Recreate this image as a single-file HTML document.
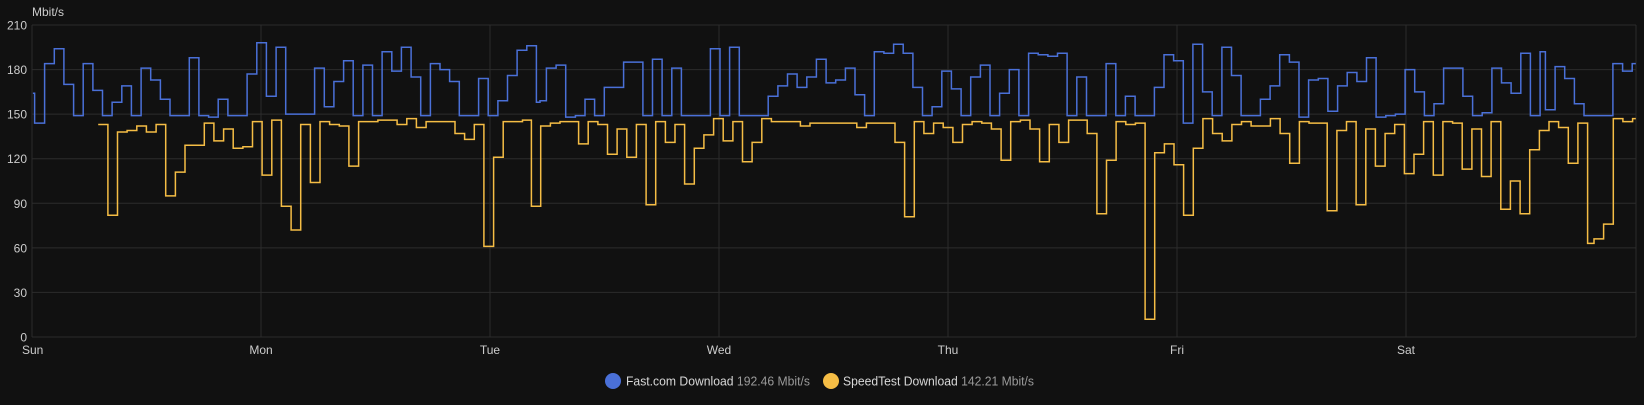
<!DOCTYPE html>
<html><head><meta charset="utf-8"><style>
html,body{margin:0;padding:0;background:#111111;}
svg{display:block;font-family:"Liberation Sans",sans-serif;}
</style></head><body>
<svg id="c" width="1644" height="405" xmlns="http://www.w3.org/2000/svg">
<rect width="1644" height="405" fill="#111111"/>
<g id="grid" stroke="#2c2c2c" stroke-width="1"></g>
<g id="lbl" fill="#cccccc" font-size="12"></g>
<text x="32" y="16" fill="#cccccc" font-size="12">Mbit/s</text>
<g id="series" fill="none" stroke-width="1.5" stroke-linejoin="miter"></g>
<circle cx="613" cy="381" r="8" fill="#4a70d8"/>
<text x="626" y="385.5" font-size="13" fill="#d8d8d8" textLength="184" lengthAdjust="spacingAndGlyphs">Fast.com Download <tspan fill="#9a9a9a">192.46 Mbit/s</tspan></text>
<circle cx="831" cy="381" r="8" fill="#f5bd45"/>
<text x="843" y="385.5" font-size="13" fill="#d8d8d8" textLength="191" lengthAdjust="spacingAndGlyphs">SpeedTest Download <tspan fill="#9a9a9a">142.21 Mbit/s</tspan></text>
</svg>
<script>
var NS="http://www.w3.org/2000/svg";
function el(t,a,p,txt){var e=document.createElementNS(NS,t);for(var k in a)e.setAttribute(k,a[k]);if(txt!=null)e.textContent=txt;document.getElementById(p).appendChild(e);return e;}
function Y(v){return 337-v*312/210;}
var L=32,R=1636;
for(var v=0;v<=210;v+=30){var y=Y(v);el('line',{x1:L,x2:R,y1:y,y2:y},'grid');el('text',{x:27,y:y+4.5,'text-anchor':'end'},'lbl',''+v);}
var days=['Sun','Mon','Tue','Wed','Thu','Fri','Sat'];
for(var i=0;i<7;i++){var x=32+229*i;el('line',{x1:x,x2:x,y1:25,y2:337},'grid');el('text',{x:x+(i==0?-10:0),y:354,'text-anchor':i==0?'start':'middle'},'lbl',days[i]);}
el('line',{x1:R,x2:R,y1:25,y2:337},'grid');
var blue=[
[0,1512,[[92,164],[97,144],[125,184],[152,194],[179,170],[206,149],[233,184],[260,166],[287,149],[314,158],[341,169],[368,149],[395,181],[422,173],[449,160],[476,149],[530,188],[557,149],[584,148],[611,160],[638,149],[692,177],[719,198],[746,162],[773,195],[800,150],[881,181],[908,155],[935,172],[962,186],[989,149],[1016,183],[1043,149],[1070,192],[1097,179],[1124,195],[1151,175],[1178,149],[1205,184],[1232,180],[1259,172],[1286,149],[1340,174],[1367,149],[1394,159],[1421,176],[1448,193],[1475,196],[1502,158]]],
[540,1523,[[0,159],[18,181],[45,183],[72,148],[99,149],[126,160],[153,149],[180,168],[234,185],[288,149],[315,187],[342,149],[369,181],[396,149],[477,194],[504,149],[531,195],[558,149],[639,162],[666,169],[693,177],[720,168],[747,175],[774,187],[801,171],[828,173],[855,181],[882,163],[909,149],[936,192],[963,191],[990,197],[1017,191],[1044,168],[1071,149],[1098,155],[1125,179],[1152,167],[1179,149],[1206,175],[1233,183],[1260,149],[1287,164],[1314,180],[1341,149],[1368,191],[1395,190],[1422,189],[1449,191],[1476,149],[1503,175]]],
[1084,1545,[[0,175],[7,149],[62,184],[89,149],[116,162],[143,149],[197,168],[224,190],[251,186],[278,144],[305,197],[332,165],[359,149],[386,195],[413,176],[440,149],[494,160],[521,169],[548,190],[575,185],[602,148],[629,173],[656,174],[683,152],[710,169],[737,178],[764,172],[791,188],[818,148],[845,149],[872,150],[899,180],[926,165],[953,149],[980,157],[1007,181],[1061,162],[1088,149],[1115,151],[1142,181],[1169,171],[1196,164],[1223,191],[1250,149],[1277,192],[1292,153],[1319,182],[1346,174],[1373,157],[1400,149],[1481,184],[1508,179],[1535,184]]]
];
var yel=[
[0,1512,[[275,143],[302,82],[329,138],[356,139],[383,142],[410,138],[437,143],[464,95],[491,111],[518,129],[572,144],[599,132],[626,140],[653,127],[680,128],[707,145],[734,109],[761,146],[788,88],[815,72],[842,143],[869,104],[896,145],[923,143],[950,142],[977,115],[1004,145],[1058,146],[1112,143],[1139,147],[1166,141],[1193,145],[1274,137],[1301,133],[1328,143],[1355,61],[1382,121],[1409,145],[1463,146],[1488,88]]],
[540,1523,[[0,88],[2,142],[29,144],[56,145],[108,130],[135,145],[162,143],[189,123],[216,140],[243,121],[270,143],[297,89],[324,145],[351,131],[378,143],[405,103],[432,127],[459,136],[486,147],[513,132],[540,145],[567,118],[594,131],[621,147],[648,145],[729,142],[756,144],[887,141],[914,144],[994,131],[1021,81],[1048,145],[1075,137],[1102,144],[1129,141],[1156,131],[1183,143],[1210,145],[1237,144],[1264,140],[1291,119],[1318,145],[1345,146],[1372,140],[1399,118],[1426,143],[1453,131],[1480,146]]],
[1084,1545,[[0,146],[9,137],[36,83],[63,119],[90,145],[117,143],[144,144],[171,12],[198,124],[225,130],[252,116],[279,82],[306,127],[333,147],[360,137],[387,132],[414,143],[441,145],[468,142],[522,147],[549,137],[576,117],[603,145],[630,144],[681,85],[708,139],[735,145],[762,89],[789,140],[816,115],[843,137],[870,143],[897,110],[924,123],[951,145],[978,109],[1005,145],[1032,144],[1059,113],[1086,140],[1113,108],[1140,145],[1167,86],[1194,105],[1221,83],[1248,126],[1275,139],[1302,145],[1329,141],[1356,117],[1383,144],[1410,63],[1428,66],[1455,76],[1482,147],[1509,145],[1536,147]]]
];
function build(data,color){
 var pts=[];
 data.forEach(function(z){var off=z[0],end=z[1],s=z[2];
  for(var i=0;i<s.length;i++){var x0=off+s[i][0]/2.8;var x1=off+(i+1<s.length?s[i+1][0]:end)/2.8;var y=Y(s[i][1]);
   pts.push([x0,y]);pts.push([x1,y]);}
 });
 var d='M'+pts[0][0].toFixed(1)+' '+pts[0][1].toFixed(1);
 for(var i=1;i<pts.length;i++)d+=' L'+pts[i][0].toFixed(1)+' '+pts[i][1].toFixed(1);
 el('path',{d:d,stroke:color},'series');
}
build(blue,'#4a70d8');
build(yel,'#f5bd45');
</script>
</body></html>
